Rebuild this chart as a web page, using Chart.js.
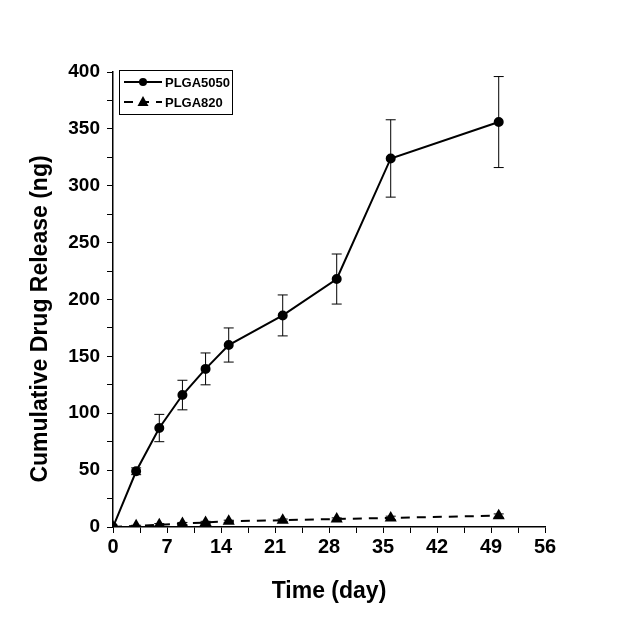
<!DOCTYPE html>
<html>
<head>
<meta charset="utf-8">
<script src="https://cdn.jsdelivr.net/npm/chart.js@4/dist/chart.umd.min.js"></script>
<style>
  body { margin: 0; background: #fff; }
</style>
</head>
<body>
<canvas id="myChart" width="635" height="635"></canvas>
<script>
// days
const days = [0, 3, 6, 9, 12, 15, 22, 29, 36, 50]
const plga5050 = [0, 49, 87, 116, 139, 160, 186, 218, 324, 356]
const plga5050Err = [0, 3, 12, 13, 14, 15, 18, 22, 34, 40]
const plga820 = [0, 1, 2, 3, 4, 5, 6, 7, 8, 10]
const plga820Err = [0, 0.5, 1, 1, 1, 1, 1, 1, 1.5, 1.5]
const seriesNames = ["PLGA5050", "PLGA820"]
const xTitle = "Time (day)"
const yTitle = "Cumulative Drug Release (ng)"

function toPoints(ys) {
    let pts = []
    for (let i = 0; i < days.length; i++) {
        pts.push({ x: days[i], y: ys[i] })
    }
    return pts
}

// error bars, drawn with the chart's own scales
const errorBars = {
    id: 'errorBars',
    afterDatasetsDraw(chart) {
        const ctx = chart.ctx
        const xs = chart.scales.x
        const ys = chart.scales.y
        chart.data.datasets.forEach(ds => {
            if (!ds.errors) return
            ctx.save()
            ctx.strokeStyle = '#000'
            ctx.lineWidth = 1
            for (let i = 0; i < ds.data.length; i++) {
                const e = ds.errors[i]
                if (!e) continue
                const px = xs.getPixelForValue(ds.data[i].x)
                const top = ys.getPixelForValue(ds.data[i].y + e)
                const bot = ys.getPixelForValue(ds.data[i].y - e)
                ctx.beginPath()
                ctx.moveTo(px, top); ctx.lineTo(px, bot)
                ctx.moveTo(px - 5, top); ctx.lineTo(px + 5, top)
                ctx.moveTo(px - 5, bot); ctx.lineTo(px + 5, bot)
                ctx.stroke()
            }
            ctx.restore()
        })
    }
}

// y title sits a bit below the middle of the axis in the original
const yAxisTitle = {
    id: 'yAxisTitle',
    afterDraw(chart) {
        const ctx = chart.ctx
        ctx.save()
        ctx.translate(41, 319)
        ctx.rotate(-Math.PI / 2)
        ctx.font = 'bold 23px "Liberation Sans", Arial'
        ctx.fillStyle = '#000'
        ctx.textAlign = 'center'
        ctx.textBaseline = 'middle'
        ctx.fillText(yTitle, 0, 0)
        ctx.restore()
    }
}

// boxed legend in the upper left corner
const boxLegend = {
    id: 'boxLegend',
    afterDraw(chart) {
        const ctx = chart.ctx
        const left = 119, top = 70, w = 113, h = 44
        ctx.save()
        ctx.strokeStyle = '#000'
        ctx.lineWidth = 1
        ctx.fillStyle = '#fff'
        ctx.fillRect(left, top, w, h)
        ctx.strokeRect(left + 0.5, top + 0.5, w, h)
        chart.data.datasets.forEach((ds, i) => {
            const y = top + 12 + i * 20
            ctx.lineWidth = 2
            ctx.setLineDash(ds.borderDash || [])
            ctx.beginPath()
            ctx.moveTo(left + 5, y)
            ctx.lineTo(left + 43, y)
            ctx.stroke()
            ctx.setLineDash([])
            ctx.fillStyle = '#000'
            const mx = left + 24
            ctx.beginPath()
            if (ds.pointStyle === 'triangle') {
                ctx.moveTo(mx, y - 6)
                ctx.lineTo(mx + 5.5, y + 4)
                ctx.lineTo(mx - 5.5, y + 4)
                ctx.closePath()
            } else {
                ctx.arc(mx, y, 4, 0, Math.PI * 2)
            }
            ctx.fill()
            ctx.font = 'bold 13px "Liberation Sans", Arial'
            ctx.textBaseline = 'middle'
            ctx.fillText(ds.label, left + 46, y + 1)
        })
        ctx.restore()
    }
}

new Chart("myChart", {
    type: "line",
    data: {
        datasets: [{
            label: seriesNames[0],
            data: toPoints(plga5050),
            errors: plga5050Err,
            borderColor: '#000',
            backgroundColor: '#000',
            borderWidth: 2,
            pointStyle: 'circle',
            pointRadius: 4,
            tension: 0
        }, {
            label: seriesNames[1],
            data: toPoints(plga820),
            errors: plga820Err,
            borderColor: '#000',
            backgroundColor: '#000',
            borderWidth: 2,
            borderDash: [9, 7],
            pointStyle: 'triangle',
            pointRadius: 5,
            tension: 0
        }]
    },
    options: {
        responsive: false,
        animation: false,
        layout: { padding: { top: 72, right: 90, left: 0, bottom: 0 } },
        plugins: {
            legend: { display: false },
            tooltip: { enabled: false }
        },
        scales: {
            x: {
                type: 'linear',
                min: 0, max: 56,
                afterFit: s => { s.height = 108 },
                border: { display: true, color: '#000', width: 1.5 },
                grid: { drawOnChartArea: false, color: '#000', tickLength: 6 },
                ticks: {
                    stepSize: 3.5,
                    autoSkip: false,
                    maxRotation: 0,
                    padding: 2,
                    color: '#000',
                    font: { family: '"Liberation Sans", Arial', size: 20, weight: 'bold' },
                    callback: v => (v % 7 === 0 ? v : '')
                },
                title: {
                    display: true,
                    text: xTitle,
                    color: '#000',
                    font: { family: '"Liberation Sans", Arial', size: 23, weight: 'bold' },
                    padding: { top: 0, bottom: 30 }
                }
            },
            y: {
                min: 0, max: 400,
                afterFit: s => { s.width = 113 },
                border: { display: true, color: '#000', width: 1.5 },
                grid: { drawOnChartArea: false, color: '#000', tickLength: 6 },
                ticks: {
                    stepSize: 25,
                    autoSkip: false,
                    padding: 7,
                    color: '#000',
                    font: { family: '"Liberation Sans", Arial', size: 19, weight: 'bold' },
                    callback: v => (v % 50 === 0 ? v : '')
                }
            }
        }
    },
    plugins: [errorBars, yAxisTitle, boxLegend]
});
</script>
</body>
</html>
